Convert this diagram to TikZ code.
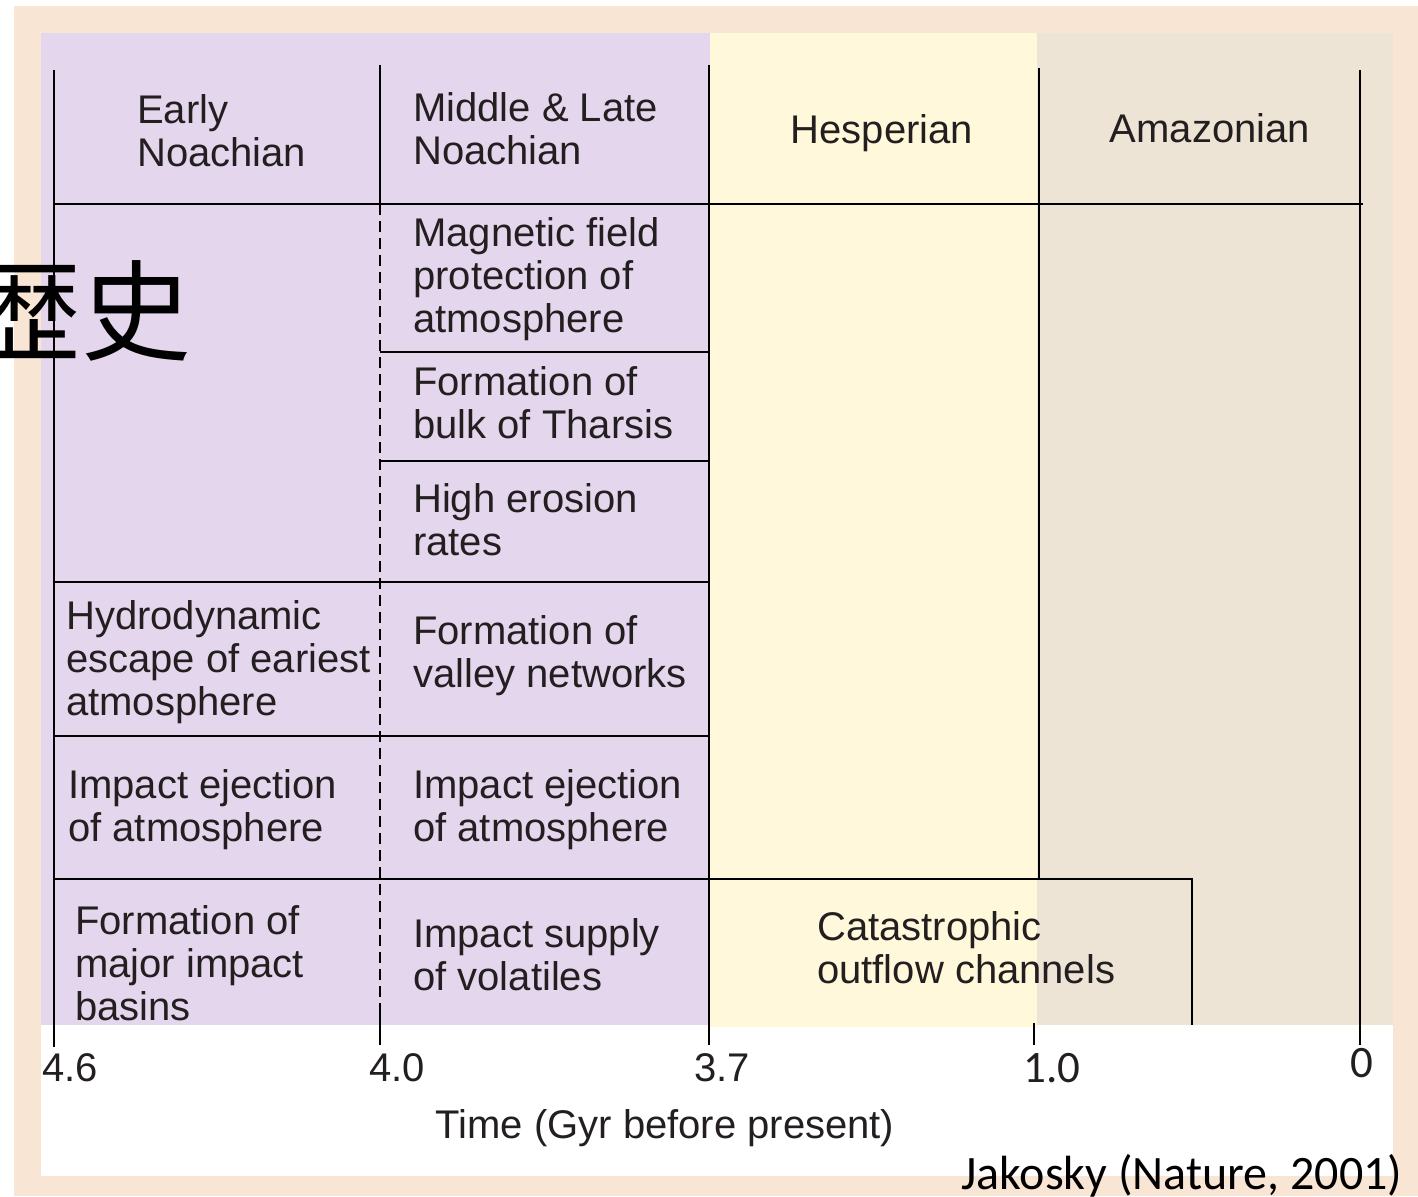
\documentclass[tikz,border=0pt]{standalone}
\usepackage{fontspec}
\setmainfont{Liberation Sans}
\newfontfamily\calib{Carlito}
\newfontfamily\cjk{Noto Sans CJK JP}
\usetikzlibrary{positioning}
\definecolor{noach}{RGB}{228,214,236}
\definecolor{hesp}{RGB}{255,248,218}
\definecolor{amaz}{RGB}{238,228,214}
\definecolor{peach}{RGB}{249,229,211}
\definecolor{ink}{RGB}{35,31,32}
\tikzset{
  cell/.style={anchor=west,align=left,inner sep=0pt,text=ink,font=\fontsize{40}{43}\selectfont},
  tick/.style={inner sep=0pt,text=ink,font=\fontsize{40}{43}\selectfont},
  rule/.style={line width=2.1pt,black}
}

\begin{document}
\begin{tikzpicture}[x=1pt,y=-1pt]
\useasboundingbox (0,0) rectangle (1418,1196);
\fill[white] (0,0) rectangle (1418,1196);
\fill[peach] (14,6) rectangle (1418,1196);
\fill[white] (41,33) rectangle (1393,1176);
\fill[noach] (41,33) rectangle (710,1025);
\fill[hesp] (710,33) rectangle (1037,1027);
\fill[amaz] (1037,33) rectangle (1393,1025);

\draw[rule] (54,70)--(54,1047);
\draw[rule] (380,65)--(380,204);
\draw[rule,dash pattern=on 11pt off 6pt] (380,204)--(380,1012);
\draw[rule] (380,1012)--(380,1045);
\draw[rule] (709,65)--(709,1045);
\draw[rule] (1039,68)--(1039,879);
\draw[rule] (1034,1023)--(1034,1045);
\draw[rule] (1360,70)--(1360,1045);
\draw[rule] (54,204)--(1363,204);
\draw[rule] (380,352)--(709,352) (380,461)--(709,461);
\draw[rule] (54,582)--(709,582) (54,736)--(709,736);
\draw[rule] (54,879)--(1192,879)--(1192,1025);

\node[cell] (early) at (137,131) {Early\\Noachian};
\node[cell] (late) at (413,129) {Middle \& Late\\Noachian};
\node[tick] (hesperian) at (882,133) {Hesperian};
\node[tick] (amazonian) at (1210,128) {Amazonian};

\node[cell] (magnetic) at (413,279) {Magnetic field\\protection of\\atmosphere};
\node[cell] (tharsis) at (413,403) {Formation of\\bulk of Tharsis};
\node[cell] (erosion) at (413,520) {High erosion\\rates};
\node[cell] (valley) at (413,656) {Formation of\\valley networks};
\node[cell] (ejectlate) at (413,810) {Impact ejection\\of atmosphere};
\node[cell] (supply) at (413,955) {Impact supply\\of volatiles};

\node[cell] (hydro) at (66,662) {Hydrodynamic\\escape of eariest\\atmosphere};
\node[cell] (ejectearly) at (68,810) {Impact ejection\\of atmosphere};
\node[cell] (basins) at (75,963) {Formation of\\major impact\\basins};
\node[cell] (outflow) at (817,948) {Catastrophic\\outflow channels};

\node[tick] (t46) at (70,1068) {4.6};
\node[tick] (t40) at (397,1068) {4.0};
\node[tick] (t37) at (722,1068) {3.7};
\node[tick,font=\calib\fontsize{45}{50}\selectfont] (t10) at (1052,1068) {1.0};
\node[tick,font=\calib\fontsize{45}{50}\selectfont] (t0) at (1362,1063) {0};
\node[tick] (axis) at (665,1128) {Time (Gyr before present)};

\node[anchor=base west,inner sep=0pt,font=\calib\fontsize{48}{50}\selectfont] (source) at (961,1189) {Jakosky (Nature, 2001)};
\node[anchor=west,inner sep=0pt,font=\cjk\fontsize{110}{120}\selectfont] (title) at (-29,311) {歴史};
\end{tikzpicture}
\end{document}
